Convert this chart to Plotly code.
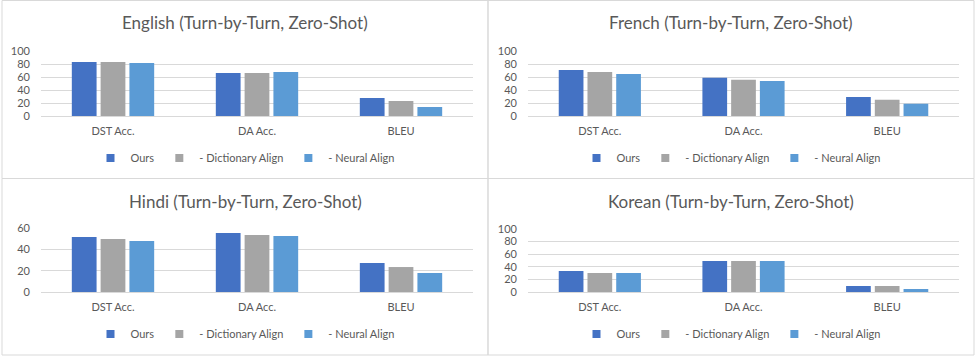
import plotly.graph_objects as go

categories = ["DST Acc.", "DA Acc.", "BLEU"]
series_names = ["Ours", "- Dictionary Align", "- Neural Align"]
colors = ["#4472C4", "#A5A5A5", "#5B9BD5"]

panel_titles = [
    "English (Turn-by-Turn, Zero-Shot)",
    "French (Turn-by-Turn, Zero-Shot)",
    "Hindi (Turn-by-Turn, Zero-Shot)",
    "Korean (Turn-by-Turn, Zero-Shot)",
]

english_ours = [83.5, 66.5, 28]
english_dict = [83.5, 66.5, 23]
english_neural = [82, 68, 14]

french_ours = [71, 59, 29.5]
french_dict = [68, 56, 25]
french_neural = [65, 54, 19]

hindi_ours = [51.6, 55.3, 27.2]
hindi_dict = [49.7, 53.4, 23.4]
hindi_neural = [47.8, 52.5, 17.8]

korean_ours = [33.3, 49.2, 9.5]
korean_dict = [30.2, 49.2, 9.5]
korean_neural = [30.2, 49.2, 4.8]

y_ranges = [[0, 100], [0, 100], [0, 60], [0, 100]]
y_dtick = [20, 20, 20, 20]

panels = [
    (english_ours, english_dict, english_neural),
    (french_ours, french_dict, french_neural),
    (hindi_ours, hindi_dict, hindi_neural),
    (korean_ours, korean_dict, korean_neural),
]

W, H = 975, 357
FONT = "Lato"
TXT = "#595959"
GRID = "#D9D9D9"

def px(x):
    return x / W

def py(y):
    return 1 - y / H

# plot-area geometry (pixels)
x_doms = [(41, 473), (528, 959), (41, 473), (528, 959)]
y_doms = [(116, 51.3), (116, 51.3), (292, 228), (292, 229)]
panel_boxes = [(2, 488, 0.5, 178.5), (488, 974, 0.5, 178.5), (2, 488, 178.5, 355), (488, 974, 178.5, 355)]
title_y = [23, 23, 201, 201]
legend_y = [158, 158, 334, 334]

fig = go.Figure()
layout = dict(
    width=W, height=H, margin=dict(l=0, r=0, t=0, b=0, autoexpand=False),
    paper_bgcolor="white", plot_bgcolor="white",
    barmode="group", bargap=0.4, bargroupgap=0.14,
    font=dict(family=FONT, color=TXT, size=11),
    shapes=[], annotations=[],
)

for i, vals in enumerate(panels):
    ax = "" if i == 0 else str(i + 1)
    lg = "legend" if i == 0 else f"legend{i + 1}"
    for name, v, c in zip(series_names, vals, colors):
        fig.add_trace(go.Bar(
            x=categories, y=v, name=name, marker=dict(color=c, line=dict(width=0)),
            xaxis="x" + ax, yaxis="y" + ax, showlegend=False, hoverinfo="x+y+name",
        ))
    # legend entries (small square swatches, as in the original)
    for name, c in zip(series_names, colors):
        fig.add_trace(go.Scatter(
            x=[None], y=[None], mode="markers", name=name,
            marker=dict(symbol="square", size=8, color=c),
            xaxis="x" + ax, yaxis="y" + ax, legend=lg, hoverinfo="skip",
        ))
    x0, x1 = x_doms[i]
    yb, yt = y_doms[i]
    layout["xaxis" + ax] = dict(
        domain=[px(x0), px(x1)], anchor="y" + ax, showgrid=False,
        showline=True, linecolor=GRID, linewidth=1, ticks="",
        tickfont=dict(size=11, color=TXT, family=FONT), ticklabelstandoff=5,
        fixedrange=True, automargin=False,
    )
    layout["yaxis" + ax] = dict(
        domain=[py(yb), py(yt)], anchor="x" + ax, range=y_ranges[i], dtick=y_dtick[i],
        showgrid=True, gridcolor=GRID, gridwidth=1, zeroline=False, showline=False,
        ticks="", tickfont=dict(size=11, color=TXT, family=FONT), ticklabelstandoff=10,
        fixedrange=True, automargin=False,
    )
    bx0, bx1, by0, by1 = panel_boxes[i]
    layout["shapes"].append(dict(
        type="rect", xref="paper", yref="paper",
        x0=px(bx0), x1=px(bx1), y0=py(by1), y1=py(by0),
        line=dict(color=GRID, width=1), fillcolor="rgba(0,0,0,0)", layer="below",
    ))
    layout["annotations"].append(dict(
        text=panel_titles[i], xref="paper", yref="paper",
        x=px((bx0 + bx1) / 2), y=py(title_y[i]), xanchor="center", yanchor="middle",
        showarrow=False, font=dict(size=17, color=TXT, family=FONT),
    ))
    layout[lg] = dict(
        orientation="h", x=px((bx0 + bx1) / 2), y=py(legend_y[i]),
        xanchor="center", yanchor="middle", bgcolor="rgba(0,0,0,0)",
        font=dict(size=11, color=TXT, family=FONT), itemwidth=30,
        traceorder="normal", tracegroupgap=0,
    )

fig.update_layout(**layout)
fig.write_html(
    "out.html",
    config={"displayModeBar": False},
    post_script=(
        "document.documentElement.style.margin='0';"
        "document.documentElement.style.overflow='hidden';"
        "document.body.style.margin='0';"
        "document.body.style.overflow='hidden';"
        "var d=document.getElementById('{plot_id}');"
        "d.style.position='fixed';d.style.top='0px';d.style.left='0px';"
    ),
)
